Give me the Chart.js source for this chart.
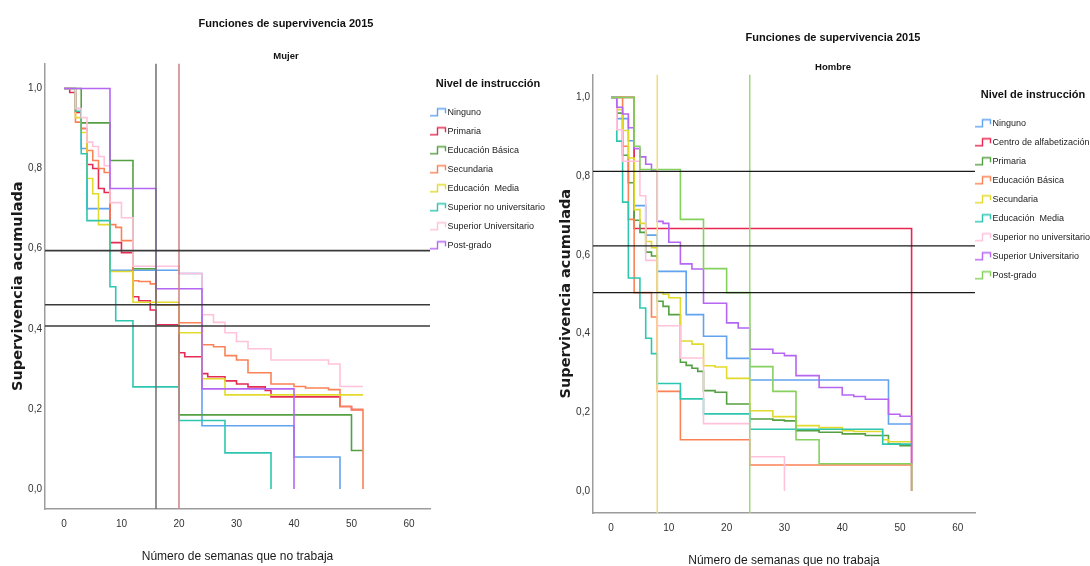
<!DOCTYPE html>
<html>
<head>
<meta charset="utf-8">
<script src="https://cdn.jsdelivr.net/npm/chart.js@4.4.1/dist/chart.umd.min.js"></script>
<style>
  html, body { margin: 0; padding: 0; background: #fff; }
  body { width: 1090px; height: 566px; position: relative; overflow: hidden; }
  .panel { position: absolute; top: 0; height: 566px; width: 546px; }
</style>
</head>
<body>
<div class="panel" style="left:0"><canvas id="mujer" width="546" height="566"></canvas></div>
<div class="panel" style="left:545px"><canvas id="hombre" width="546" height="566"></canvas></div>
<script>
// Ejes comunes
const weekTicks = [0, 10, 20, 30, 40, 50, 60];
const survTicks = [0, 0.2, 0.4, 0.6, 0.8, 1.0];
const survTickLabels = ['0,0', '0,2', '0,4', '0,6', '0,8', '1,0'];

// Mujer: [semana, supervivencia acumulada]
const mujerGroups = ['Ninguno', 'Primaria', 'Educación Básica', 'Secundaria', 'Educación  Media',
  'Superior no universitario', 'Superior Universitario', 'Post-grado'];
const mNinguno = [[0, 1], [2, 0.95], [3, 0.85], [4, 0.70], [8, 0.546], [20, 0.538], [24, 0.158], [40, 0.08], [48, 0]];
const mPrimaria = [[0, 1], [1, 0.99], [2, 0.94], [3, 0.90], [4, 0.81], [5, 0.80], [6, 0.75], [7, 0.74], [8, 0.615],
  [10, 0.59], [12, 0.48], [13, 0.47], [15, 0.447], [16, 0.41], [20, 0.34], [21, 0.33], [24, 0.288], [25, 0.28],
  [28, 0.27], [30, 0.262], [32, 0.255], [35, 0.246], [36, 0.23], [48, 0.206], [50, 0.198], [52, 0.198]];
const mBasica = [[0, 1], [3, 0.914], [8, 0.82], [12, 0.55], [16, 0.46], [20, 0.185], [50, 0.096], [52, 0.096]];
const mSecundaria = [[0, 1], [2, 0.916], [3, 0.90], [4, 0.845], [5, 0.82], [6, 0.80], [7, 0.79], [8, 0.66], [9, 0.653],
  [10, 0.62], [12, 0.52], [13, 0.518], [15, 0.512], [16, 0.46], [20, 0.415], [24, 0.36], [26, 0.355], [28, 0.333],
  [30, 0.322], [32, 0.29], [36, 0.262], [40, 0.256], [42, 0.252], [46, 0.248], [48, 0.206], [50, 0.198], [52, 0]];
const mMedia = [[0, 1], [2, 0.927], [3, 0.89], [4, 0.775], [5, 0.737], [6, 0.66], [8, 0.543], [12, 0.466], [20, 0.39],
  [24, 0.275], [28, 0.235], [52, 0.235]];
const mSupNoUniv = [[0, 1], [2, 0.943], [3, 0.837], [4, 0.67], [8, 0.505], [9, 0.42], [12, 0.255], [20, 0.171], [28, 0.09], [36, 0]];
const mSupUniv = [[0, 1], [2, 0.95], [3, 0.927], [4, 0.866], [5, 0.855], [6, 0.83], [7, 0.807], [8, 0.715], [10, 0.677],
  [12, 0.556], [20, 0.538], [24, 0.435], [26, 0.416], [28, 0.39], [30, 0.368], [32, 0.35], [36, 0.322], [46, 0.312],
  [48, 0.256], [52, 0.256]];
const mPostgrado = [[0, 1], [8, 0.75], [16, 0.50], [24, 0.25], [40, 0]];
const mujerSeries = [mNinguno, mPrimaria, mBasica, mSecundaria, mMedia, mSupNoUniv, mSupUniv, mPostgrado];
const mujerColors = ['#62a3ef', '#e42c55', '#55a043', '#fb8256', '#e2da2c', '#2fc6b0', '#ffc2da', '#b566f2'];
const mujerHLines = [0.595, 0.46, 0.407];
const mujerVLines = [16, 20];

// Hombre: [semana, supervivencia acumulada]
const hombreGroups = ['Ninguno', 'Centro de alfabetización', 'Primaria', 'Educación Básica', 'Secundaria',
  'Educación  Media', 'Superior no universitario', 'Superior Universitario', 'Post-grado'];
const hNinguno = [[0, 1], [1, 0.946], [3, 0.89], [4, 0.725], [6, 0.65], [8, 0.558], [13, 0.448], [16, 0.393],
  [20, 0.337], [24, 0.282], [48, 0.17], [52, 0.17]];
const hAlfabet = [[0, 1], [4, 0.667], [52, 0]];
const hPrimaria = [[0, 1], [1, 0.96], [2, 0.853], [3, 0.783], [4, 0.688], [5, 0.657], [6, 0.607], [7, 0.597], [8, 0.482],
  [9, 0.469], [10, 0.448], [12, 0.327], [13, 0.319], [14, 0.312], [15, 0.304], [16, 0.255], [18, 0.251], [20, 0.221],
  [24, 0.183], [28, 0.18], [30, 0.178], [32, 0.153], [36, 0.149], [40, 0.145], [44, 0.141], [48, 0.119], [50, 0.115], [52, 0.115]];
const hBasica = [[0, 1], [2, 0.876], [3, 0.69], [4, 0.504], [7, 0.442], [8, 0.253], [12, 0.13], [24, 0.066], [52, 0.066]];
const hSecundaria = [[0, 1], [1, 0.969], [2, 0.916], [3, 0.846], [4, 0.715], [5, 0.68], [6, 0.634], [7, 0.618], [8, 0.505],
  [9, 0.50], [10, 0.491], [12, 0.381], [14, 0.373], [16, 0.318], [18, 0.315], [20, 0.286], [24, 0.204], [28, 0.189],
  [32, 0.166], [36, 0.161], [40, 0.153], [42, 0.151], [47, 0.13], [48, 0.125], [52, 0.125]];
const hMedia = [[0, 1], [1, 0.889], [2, 0.734], [3, 0.541], [5, 0.465], [6, 0.388], [7, 0.349], [8, 0.273], [12, 0.234],
  [16, 0.196], [24, 0.157], [47, 0.119], [52, 0.119]];
const hSupNoUniv = [[0, 1], [1, 0.918], [2, 0.838], [5, 0.75], [6, 0.586], [8, 0.42], [12, 0.338], [16, 0.171], [24, 0.087], [30, 0]];
const hSupUniv = [[0, 1], [1, 0.975], [2, 0.958], [3, 0.923], [4, 0.87], [5, 0.849], [6, 0.83], [7, 0.813], [8, 0.685],
  [9, 0.68], [10, 0.632], [12, 0.577], [14, 0.564], [16, 0.477], [20, 0.427], [22, 0.414], [24, 0.36], [28, 0.35],
  [30, 0.344], [32, 0.293], [36, 0.263], [40, 0.244], [42, 0.24], [44, 0.233], [48, 0.195], [50, 0.19], [52, 0.069]];
const hPostgrado = [[0, 1], [4, 0.876], [5, 0.817], [12, 0.69], [16, 0.565], [20, 0.504], [24, 0.316], [28, 0.253],
  [32, 0.13], [36, 0.069], [52, 0]];
const hombreSeries = [hNinguno, hAlfabet, hPrimaria, hBasica, hSecundaria, hMedia, hSupNoUniv, hSupUniv, hPostgrado];
const hombreColors = ['#62a3ef', '#e8264f', '#55a043', '#fb8256', '#e2da2c', '#2fc6b0', '#ffc2da', '#b566f2', '#86d05e'];
const hombreHLines = [0.812, 0.623, 0.504];
const hombreVLines = [8, 24];

const SANS = "'Liberation Sans', Arial, sans-serif";

// icono escalonado para la leyenda
function stepIcon(color) {
  const c = document.createElement('canvas');
  c.width = 23; c.height = 10;
  const g = c.getContext('2d');
  g.strokeStyle = color;
  g.lineWidth = 1.4;
  g.beginPath();
  g.moveTo(0, 8.5); g.lineTo(7.5, 8.5); g.lineTo(7.5, 1.5); g.lineTo(15.5, 1.5); g.lineTo(15.5, 6);
  g.stroke();
  return c;
}

function buildChart(id, cfg) {
  const n = cfg.groups.length;
  const datasets = cfg.groups.map((name, i) => ({
    label: name,
    data: cfg.series[i].map(p => ({x: p[0], y: p[1]})),
    borderColor: cfg.colors[i],
    borderWidth: 1.6,
    stepped: 'before',
    pointRadius: 0,
    pointStyle: stepIcon(cfg.colors[i]),
    fill: false,
    order: n - i
  }));
  cfg.hLines.forEach(v => datasets.push({
    data: [{x: cfg.xMin, y: v}, {x: cfg.xMax, y: v}],
    borderColor: cfg.hColor, borderWidth: cfg.hWidth, pointRadius: 0, order: -1
  }));
  cfg.vLines.forEach((v, i) => datasets.push({
    data: [{x: v, y: cfg.yMin}, {x: v, y: cfg.yMax}],
    borderColor: cfg.vColors[i], borderWidth: 1.5, pointRadius: 0, order: -1
  }));

  return new Chart(document.getElementById(id), {
    type: 'line',
    data: {datasets: datasets},
    options: {
      responsive: false,
      devicePixelRatio: 1,
      animation: false,
      layout: {padding: {left: cfg.padL, right: 0, top: 0, bottom: 0}},
      plugins: {
        title: {
          display: true,
          text: 'Funciones de supervivencia 2015',
          color: '#111',
          font: {family: SANS, size: 11, weight: 'bold', lineHeight: 1.2},
          padding: {top: cfg.titleTop, bottom: 0}
        },
        subtitle: {
          display: true,
          text: cfg.subtitle,
          color: '#111',
          font: {family: SANS, size: 9.5, weight: 'bold', lineHeight: 1.2},
          padding: {top: cfg.subTop, bottom: 1}
        },
        legend: {
          position: 'right',
          align: 'start',
          fullSize: false,
          maxWidth: 116,
          title: {
            display: true,
            text: 'Nivel de instrucción',
            color: '#111',
            font: {family: SANS, size: 11, weight: 'bold', lineHeight: 1.2},
            padding: {top: 15.2, bottom: 6}
          },
          labels: {
            usePointStyle: true,
            pointStyleWidth: 3,
            padding: 10,
            color: '#222',
            font: {family: SANS, size: 9},
            filter: item => item.datasetIndex < n,
            sort: (a, b) => a.datasetIndex - b.datasetIndex
          }
        },
        tooltip: {enabled: false}
      },
      scales: {
        x: {
          type: 'linear',
          min: cfg.xMin,
          max: cfg.xMax,
          afterFit: s => { s.height = cfg.xScaleH; },
          afterBuildTicks: s => { s.ticks = weekTicks.map(v => ({value: v})); },
          grid: {display: false, drawTicks: false},
          border: {display: true, color: '#9c9c9c', width: 1.5},
          ticks: {padding: 9.5, color: '#333', font: {family: SANS, size: 10}, callback: v => String(v)},
          title: {
            display: true,
            text: 'Número de semanas que no trabaja',
            color: '#1a1a1a',
            font: {family: SANS, size: 12, lineHeight: 1.2},
            padding: {top: 0, bottom: cfg.xTitleBottom}
          }
        },
        y: {
          type: 'linear',
          min: cfg.yMin,
          max: cfg.yMax,
          afterFit: s => { s.width = cfg.yScaleW; },
          afterBuildTicks: s => { s.ticks = survTicks.map(v => ({value: v})); },
          grid: {display: false, drawTicks: false},
          border: {display: true, color: '#9c9c9c', width: 1.5},
          ticks: {padding: 3, color: '#333', font: {family: SANS, size: 10},
            callback: v => survTickLabels[survTicks.indexOf(v)]},
          title: {
            display: true,
            text: 'Supervivencia acumulada',
            color: '#1a1a1a',
            font: {family: "'DejaVu Sans', sans-serif", size: 14.5, weight: 'bold', lineHeight: 1.2},
            padding: {top: cfg.yTitleTop, bottom: 0}
          }
        }
      }
    }
  });
}

buildChart('mujer', {
  groups: mujerGroups, series: mujerSeries, colors: mujerColors,
  hLines: mujerHLines, vLines: mujerVLines, vColors: ['#707070', '#cf7f7f'], hColor: '#3a3a3a', hWidth: 1.6,
  subtitle: 'Mujer',
  xMin: -3.3, xMax: 63.65, yMin: -0.05, yMax: 1.0625,
  padL: 26, yScaleW: 19, xScaleH: 57, yTitleTop: -16.7,
  titleTop: 17.4, subTop: 20.4, xTitleBottom: 1.8
});

buildChart('hombre', {
  groups: hombreGroups, series: hombreSeries, colors: hombreColors,
  hLines: hombreHLines, vLines: hombreVLines, vColors: ['#f2dc78', '#9cd87c'], hColor: '#1a1a1a', hWidth: 1.3,
  subtitle: 'Hombre',
  xMin: -3.12, xMax: 62.97, yMin: -0.056, yMax: 1.0585,
  padL: 30, yScaleW: 18, xScaleH: 53, yTitleTop: -17.7,
  titleTop: 31.4, subTop: 17.4, xTitleBottom: -2.2
});
</script>
</body>
</html>
